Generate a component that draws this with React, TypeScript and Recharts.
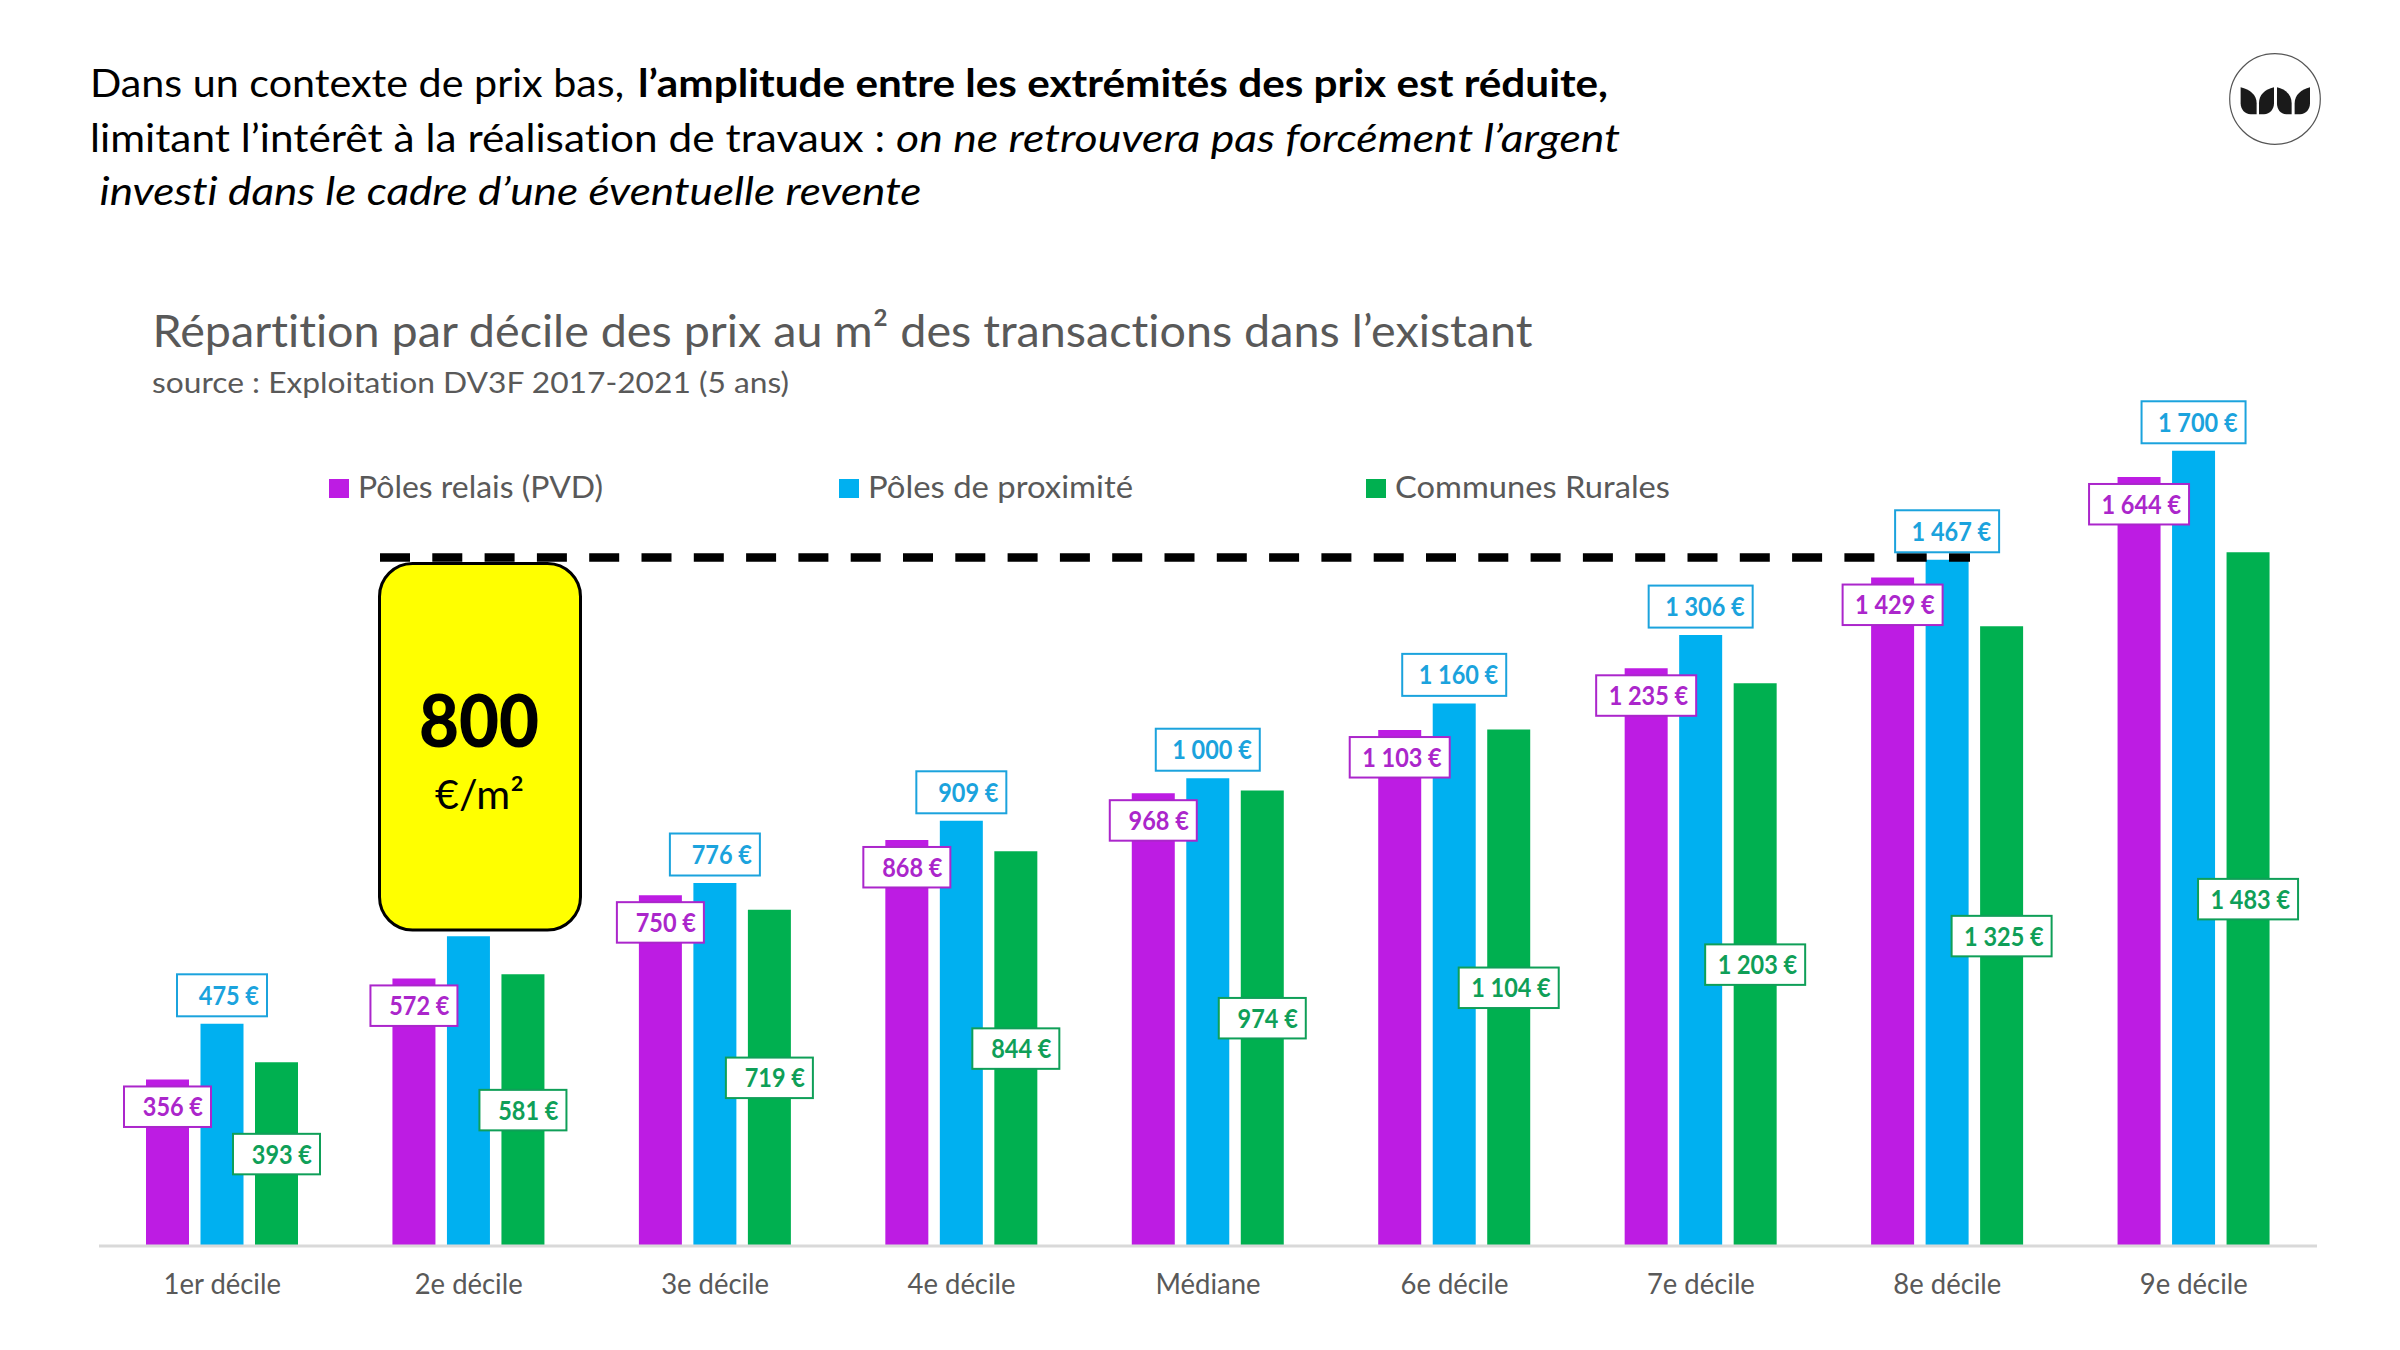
import { BarChart, Bar, XAxis, YAxis, Legend, LabelList, ReferenceLine } from 'recharts';

const FONT = 'Lato, "Open Sans", sans-serif';
const LABEL_CONDENSE = 0.87;
const TICK_CONDENSE = 0.98;

const DECILES = ['1er décile', '2e décile', '3e décile', '4e décile', 'Médiane', '6e décile', '7e décile', '8e décile', '9e décile'];
const POLES_RELAIS = [356, 572, 750, 868, 968, 1103, 1235, 1429, 1644];
// 2e décile has no printed label on this series (hidden by the callout)
const POLES_PROXIMITE = [475, 662, 776, 909, 1000, 1160, 1306, 1467, 1700];
const COMMUNES_RURALES = [393, 581, 719, 844, 974, 1104, 1203, 1325, 1483];
const DASHED_LEVEL = 1472;
const SERIES_NAMES = ['Pôles relais (PVD)', 'Pôles de proximité', 'Communes Rurales'];

const data = DECILES.map((name, i) => ({
  name,
  relais: POLES_RELAIS[i],
  proximite: POLES_PROXIMITE[i],
  rurales: COMMUNES_RURALES[i],
}));

const COLORS = { relais: '#BD1CE3', proximite: '#00B0F0', rurales: '#00B050' };
const LABEL_COLORS = { relais: '#AB26CB', proximite: '#1BA3DD', rurales: '#0F9F58' };
const LEGEND_X = [329, 839, 1366];
const LEGEND_TEXT_W = [245, 265, 275];

const formatEuro = (v: number) => {
  const s = String(v);
  return (s.length > 3 ? s.slice(0, -3) + ' ' + s.slice(-3) : s) + ' €';
};

const makeLabel = (kind: 'relais' | 'proximite' | 'rurales') => (props: any) => {
  const { x, y, width, height, value, index } = props;
  if (kind === 'proximite' && DECILES[index] === '2e décile') return null;
  const long = value >= 1000;
  const boxW = kind === 'proximite' ? (long ? 104 : 90) : long ? 100 : 87;
  const boxH = kind === 'proximite' ? 42 : 40.5;
  const cx = x + width / 2;
  let top = y + 7;
  if (kind === 'proximite') top = y - 7.5 - boxH;
  if (kind === 'rurales') top = y + height / 2 - boxH / 2;
  const color = LABEL_COLORS[kind];
  return (
    <g>
      <rect x={cx - boxW / 2} y={top} width={boxW} height={boxH} fill="#fff" stroke={color} strokeWidth={2} />
      <text
        transform={`translate(${cx + boxW / 2 - 8},${top + boxH / 2 + 9.5}) scale(${LABEL_CONDENSE},1)`}
        textAnchor="end"
        fontFamily={FONT}
        fontWeight={700}
        fontSize={27}
        fill={color}
      >
        {formatEuro(value)}
      </text>
    </g>
  );
};

const DeciTick = ({ x, y, payload }: any) => (
  <text
    transform={`translate(${x},${y + 39.5}) scale(${TICK_CONDENSE},1)`}
    textAnchor="middle"
    fontFamily={FONT}
    fontSize={28}
    fill="#595959"
  >
    {payload.value}
  </text>
);

const LegendRow = ({ payload }: any) => (
  <svg width={2400} height={80} style={{ display: 'block', overflow: 'visible' }}>
    {(payload || []).map((p: any) => {
      const i = SERIES_NAMES.indexOf(p.value);
      return (
        <g key={p.value}>
          <rect x={LEGEND_X[i]} y={10} width={20} height={19} fill={p.color} />
          <text x={LEGEND_X[i] + 29} y={29} fontFamily={FONT} fontSize={31} fill="#595959" textLength={LEGEND_TEXT_W[i]} lengthAdjust="spacingAndGlyphs">
            {p.value}
          </text>
        </g>
      );
    })}
  </svg>
);

const DashedSegment = (props: any) => (
  <line x1={380} x2={1970} y1={props.y1} y2={props.y1} stroke="#000" strokeWidth={8.5} strokeDasharray="30 22.3" />
);

const Run = ({ x, y, w, size, weight, italic, color, children }: any) => (
  <text
    x={x}
    y={y}
    textLength={w}
    lengthAdjust="spacingAndGlyphs"
    fontFamily={FONT}
    fontSize={size}
    fontWeight={weight || 400}
    fontStyle={italic ? 'italic' : 'normal'}
    fill={color || '#000'}
    style={{ fontVariantLigatures: 'none' }}
  >
    {children}
  </text>
);

export default function App() {
  return (
    <div style={{ position: 'absolute', left: 0, top: 0, width: 2400, height: 1350, background: '#fff', overflow: 'hidden' }}>
      <BarChart
        width={2400}
        height={1350}
        data={data}
        margin={{ top: 404, right: 83, bottom: 0, left: 99 }}
        barSize={43}
        barGap={11.5}
        barCategoryGap={0}
      >
        <XAxis
          dataKey="name"
          axisLine={{ stroke: '#D9D9D9', strokeWidth: 3 }}
          tickLine={false}
          tick={<DeciTick />}
          interval={0}
          height={104}
        />
        <YAxis hide domain={[0, 1800]} />
        <Legend
          layout="horizontal"
          verticalAlign="middle"
          content={<LegendRow />}
          wrapperStyle={{ left: 0, top: 469, width: 2400, height: 80 }}
        />
        <Bar dataKey="relais" name={SERIES_NAMES[0]} fill={COLORS.relais} isAnimationActive={false}>
          <LabelList dataKey="relais" content={makeLabel('relais')} />
        </Bar>
        <Bar dataKey="proximite" name={SERIES_NAMES[1]} fill={COLORS.proximite} isAnimationActive={false}>
          <LabelList dataKey="proximite" content={makeLabel('proximite')} />
        </Bar>
        <Bar dataKey="rurales" name={SERIES_NAMES[2]} fill={COLORS.rurales} isAnimationActive={false}>
          <LabelList dataKey="rurales" content={makeLabel('rurales')} />
        </Bar>
        <ReferenceLine y={DASHED_LEVEL} shape={DashedSegment} />
      </BarChart>

      <svg width={2400} height={1350} style={{ position: 'absolute', left: 0, top: 0, pointerEvents: 'none' }}>
        <Run x={90} y={97.3} w={534} size={39}>Dans un contexte de prix bas,</Run>
        <Run x={638} y={97.3} w={970} size={39} weight={700}>l’amplitude entre les extrémités des prix est réduite,</Run>
        <Run x={90} y={151.7} w={795} size={39}>limitant l’intérêt à la réalisation de travaux :</Run>
        <Run x={896} y={151.7} w={724} size={39} italic>on ne retrouvera pas forcément l’argent</Run>
        <Run x={99.5} y={205} w={822} size={39} italic>investi dans le cadre d’une éventuelle revente</Run>
        <Run x={152.5} y={347} w={1380} size={45} color="#595959">Répartition par décile des prix au m² des transactions dans l’existant</Run>
        <Run x={152} y={392.7} w={637} size={29} color="#595959">source : Exploitation DV3F 2017-2021 (5 ans)</Run>

        <rect x={379.5} y={563.5} width={201} height={366.5} rx={33} ry={33} fill="#FFFF00" stroke="#000" strokeWidth={3} />
        <Run x={419} y={746.5} w={120} size={72} weight={900}>800</Run>
        <Run x={435} y={809} w={89} size={40}>€/m²</Run>

        <circle cx={2275} cy={99} r={45.3} fill="#fff" stroke="#555" strokeWidth={1.2} />
        <g transform="translate(2100,20) scale(0.3333)" fill="#1A1A1A">
          <path d="M422 202 C450 208 470 225 470 250 L470 283 L452 283 C434 283 422 268 422 250 Z" />
          <path d="M522 202 C494 208 477 225 477 250 L477 283 L492 283 C510 283 522 268 522 250 Z" />
          <path d="M531 202 C557 208 575 225 575 250 L575 283 L559 283 C541 283 531 268 531 250 Z" />
          <path d="M630 202 C604 208 584 225 584 250 L584 283 L600 283 C618 283 630 268 630 250 Z" />
        </g>
      </svg>
    </div>
  );
}
